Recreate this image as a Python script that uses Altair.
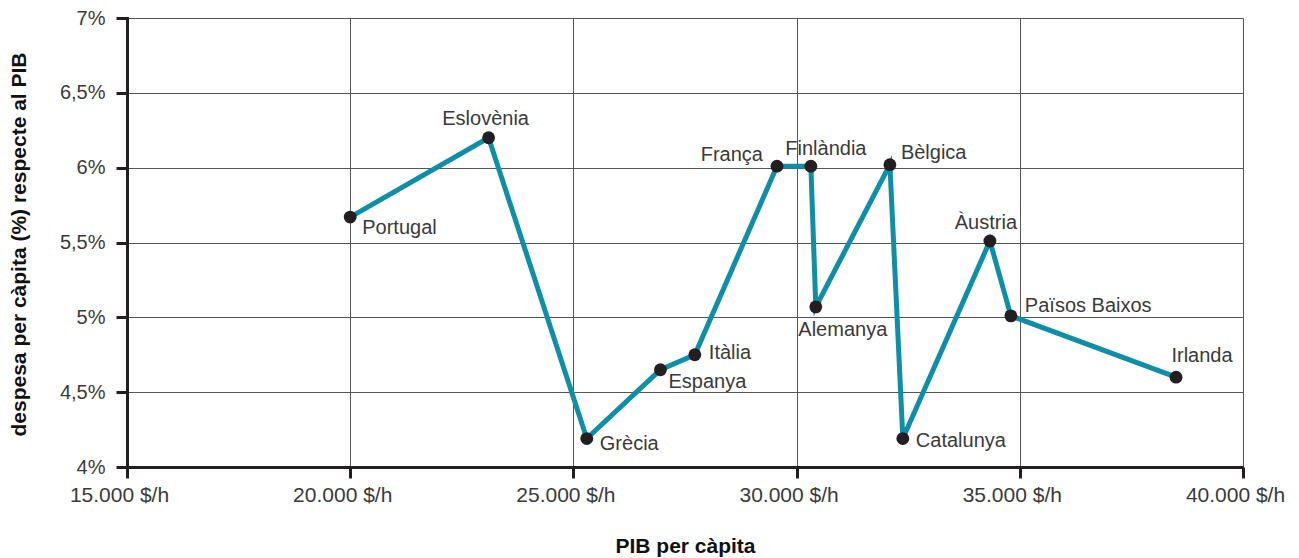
import altair as alt
import pandas as pd

# ---- data ----
countries = ["Portugal", "Eslovènia", "Grècia", "Espanya", "Itàlia", "França",
             "Finlàndia", "Alemanya", "Bèlgica", "Catalunya", "Àustria",
             "Països Baixos", "Irlanda"]
gdp_per_capita = [20000, 23100, 25300, 26950, 27720, 29560, 30320, 30430,
                  32090, 32380, 34330, 34800, 38500]
spend_pct = [5.67, 6.20, 4.19, 4.65, 4.75, 6.01, 6.01, 5.07, 6.02, 4.19,
             5.51, 5.01, 4.60]
x_ticks = [15000, 20000, 25000, 30000, 35000, 40000]
y_ticks = [4, 4.5, 5, 5.5, 6, 6.5, 7]

df = pd.DataFrame({"pais": countries, "pib": gdp_per_capita,
                   "despesa": spend_pct, "ordre": list(range(len(countries)))})

# ---- label placement (style) ----
label_style = {
    "Portugal": (12, 11, "left"),
    "Eslovènia": (-3, -19, "center"),
    "Grècia": (13, 5, "left"),
    "Espanya": (8, 12, "left"),
    "Itàlia": (14, -2, "left"),
    "França": (-14, -11, "right"),
    "Finlàndia": (15, -17, "center"),
    "Alemanya": (27, 23, "center"),
    "Bèlgica": (11, -12, "left"),
    "Catalunya": (13, 2, "left"),
    "Àustria": (-4, -18, "center"),
    "Països Baixos": (14, -10, "left"),
    "Irlanda": (26, -21, "center"),
}

FONT = "Liberation Sans"
TEXT_COLOR = "#3a3a3a"

x_enc = alt.X("pib:Q",
              scale=alt.Scale(domain=[15000, 40000], nice=False, zero=False),
              axis=alt.Axis(values=x_ticks, title="PIB per càpita",
                            labelExpr="replace(format(datum.value, ',.0f'), ',', '.') + ' $/h'",
                            labelOffset=-8,
                            titleBaseline="middle", titleY=79))
y_enc = alt.Y("despesa:Q",
              scale=alt.Scale(domain=[4, 7], nice=False, zero=False),
              axis=alt.Axis(values=y_ticks,
                            title="despesa per càpita (%) respecte al PIB",
                            labelExpr="replace(format(datum.value, '.1~f'), '.', ',') + '%'",
                            labelFontSize=20,
                            titleBaseline="middle", titleX=-108, titleY=226))

base = alt.Chart(df)

line = base.mark_line(color="#0f8fa7", strokeWidth=5, strokeJoin="miter").encode(
    x=x_enc, y=y_enc, order="ordre:Q")
points = base.mark_point(filled=True, shape="circle", size=165, color="#231f20",
                         opacity=1).encode(x="pib:Q", y="despesa:Q")

labels = []
for name, (dx, dy, al) in label_style.items():
    labels.append(
        base.transform_filter(alt.datum.pais == name).mark_text(
            dx=dx, dy=dy, align=al, baseline="middle", font=FONT, fontSize=20,
            color=TEXT_COLOR).encode(x="pib:Q", y="despesa:Q", text="pais:N"))

chart = alt.layer(line, points, *labels).properties(
    width=1116, height=449,
    autosize=alt.AutoSizeParams(type="none"),
    padding={"left": 119, "top": 10, "right": 48, "bottom": 90},
).configure_view(stroke=None).configure_axis(
    labelFont=FONT, labelFontSize=21, labelColor=TEXT_COLOR,
    titleFont=FONT, titleFontSize=21, titleFontWeight="bold", titleColor="#111",
    gridColor="#555", gridWidth=1, gridOpacity=1,
    domainColor="#231f20", domainWidth=3,
    tickColor="#231f20", tickWidth=3, tickSize=11,
).configure_axisY(labelPadding=11, domainCap="square").configure_axisX(
    labelPadding=6, labelFlush=False)

chart.save("out.html", embed_options={"renderer": "svg", "actions": False})
